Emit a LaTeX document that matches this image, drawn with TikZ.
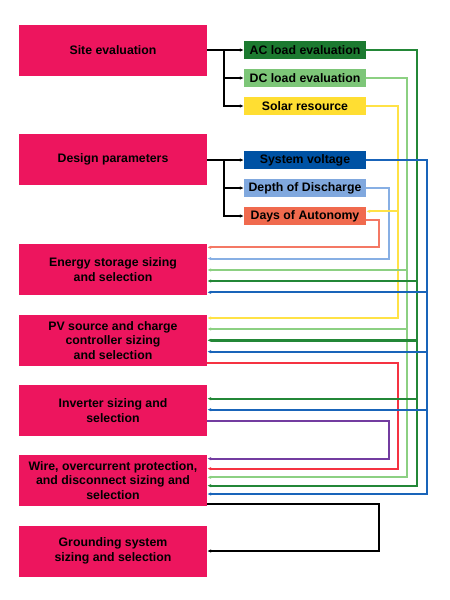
\documentclass[tikz,border=0pt]{standalone}
\usepackage{fontspec}
\setmainfont{Liberation Sans}
\usetikzlibrary{arrows.meta,calc}
\definecolor{pinkbox}{RGB}{237,21,94}
\definecolor{acfill}{RGB}{28,122,48}
\definecolor{dcfill}{RGB}{125,198,120}
\definecolor{solfill}{RGB}{255,222,50}
\definecolor{svfill}{RGB}{0,82,164}
\definecolor{dodfill}{RGB}{128,168,222}
\definecolor{daysfill}{RGB}{240,106,78}
\definecolor{cdg}{RGB}{35,135,55}
\definecolor{clg}{RGB}{140,208,130}
\definecolor{cyl}{RGB}{255,226,70}
\definecolor{cbl}{RGB}{25,100,185}
\definecolor{clb}{RGB}{135,175,228}
\definecolor{cor}{RGB}{244,120,100}
\definecolor{crd}{RGB}{245,50,65}
\definecolor{cpu}{RGB}{115,60,160}
\tikzset{
  mainbox/.style={fill=pinkbox, minimum width=188pt, minimum height=51pt, inner sep=0pt, align=center,
    font=\fontsize{12.3}{14.7}\selectfont\bfseries},
  subbox/.style={minimum width=122pt, minimum height=18.5pt, inner sep=0pt,
    font=\fontsize{12.3}{14.7}\selectfont\bfseries},
  conn/.style={line width=2pt, -{Latex[length=4pt,width=3.5pt]}},
  thick2/.style={line width=2.4pt},
}
\begin{document}
\begin{tikzpicture}[x=1pt,y=-1pt]
\useasboundingbox (0,0) rectangle (450,600);
% main boxes
\node[mainbox] (site) at (113,50) {Site evaluation};
\node[mainbox] (design) at (113,159.5) {Design parameters};
\node[mainbox] (es) at (113,269.8) {Energy storage sizing\\and selection};
\node[mainbox] (pv) at (113,340.3) {PV source and charge\\controller sizing\\and selection};
\node[mainbox] (inv) at (113,410.3) {Inverter sizing and\\selection};
\node[mainbox] (wire) at (113,480.3) {Wire, overcurrent protection,\\and disconnect sizing and\\selection};
\node[mainbox] (gr) at (113,551) {Grounding system\\sizing and selection};
% sub boxes
\node[subbox, fill=acfill] (ac) at (305,50) {AC load evaluation};
\node[subbox, fill=dcfill] (dc) at (305,78) {DC load evaluation};
\node[subbox, fill=solfill] (sol) at (305,106) {Solar resource};
\node[subbox, fill=svfill] (sv) at (305,160) {System voltage};
\node[subbox, fill=dodfill] (dod) at (305,188) {Depth of Discharge};
\node[subbox, fill=daysfill] (days) at (305,216) {Days of Autonomy};
% bus x positions
\coordinate (j1) at (224,50);
\coordinate (j2) at (224,159.5);
\coordinate (xAC) at (416.7,0);
\coordinate (xDC) at (407.3,0);
\coordinate (xSol) at (398.3,0);
\coordinate (xSV) at (426.7,0);
\coordinate (xDoD) at (389,0);
\coordinate (xDays) at (379.3,0);
\coordinate (xRed) at (398.3,0);
\coordinate (xPur) at (388.7,0);
\coordinate (xBlk) at (379.3,0);
% entry / exit points
\coordinate (daysin) at ($(days.east)+(0,-4.7)$);
\coordinate (daysout) at ($(days.east)+(0,4)$);
\coordinate (es1) at ($(es.east)+(0,-22.5)$);
\coordinate (es2) at ($(es.east)+(0,-11.2)$);
\coordinate (es3) at ($(es.east)+(0,0.2)$);
\coordinate (es4) at ($(es.east)+(0,11.2)$);
\coordinate (es5) at ($(es.east)+(0,22.5)$);
\coordinate (pv1) at ($(pv.east)+(0,-22.3)$);
\coordinate (pv2) at ($(pv.east)+(0,-11.3)$);
\coordinate (pv3) at ($(pv.east)+(0,0)$);
\coordinate (pv4) at ($(pv.east)+(0,11.4)$);
\coordinate (pv5) at ($(pv.east)+(0,22.4)$);
\coordinate (in1) at ($(inv.east)+(0,-11.6)$);
\coordinate (in2) at ($(inv.east)+(0,-0.6)$);
\coordinate (in3) at ($(inv.east)+(0,10.7)$);
\coordinate (wi1) at ($(wire.east)+(0,-21.6)$);
\coordinate (wi2) at ($(wire.east)+(0,-11.6)$);
\coordinate (wi3) at ($(wire.east)+(0,-3)$);
\coordinate (wi4) at ($(wire.east)+(0,5.4)$);
\coordinate (wi5) at ($(wire.east)+(0,13.7)$);
\coordinate (wi6) at ($(wire.east)+(0,23.4)$);
% black branches
\draw[conn] (site.east) -- (ac.west);
\draw[conn] (j1) |- (dc.west);
\draw[conn] (j1) |- (sol.west);
\draw[conn] (design.east) -- (j2) |- (sv.west);
\draw[conn] (j2) |- (dod.west);
\draw[conn] (j2) |- (days.west);
% orange (days of autonomy)
\draw[conn, cor] (daysout) -| (xDays |- es1) -- (es1);
% light blue (depth of discharge)
\draw[conn, clb] (dod.east) -| (xDoD |- es2) -- (es2);
% yellow (solar resource)
\draw[conn, cyl] (sol.east) -| (xSol |- pv1) -- (pv1);
\draw[conn, cyl] (xSol |- daysin) -- (daysin);
% red
\draw[conn, crd] (pv5) -| (xRed |- wi2) -- (wi2);
% purple
\draw[conn, cpu] (in3) -| (xPur |- wi1) -- (wi1);
% black to grounding
\draw[conn] (wi6) -| (xBlk |- gr.east) -- (gr.east);
% light green (DC load)
\draw[conn, clg] (dc.east) -| (xDC |- wi3) -- (wi3);
\draw[conn, clg] (xDC |- es3) -- (es3);
\draw[conn, clg] (xDC |- pv2) -- (pv2);
% dark green (AC load)
\draw[conn, cdg, thick2] (ac.east) -| (xAC |- wi4) -- (wi4);
\draw[conn, cdg, thick2] (xAC |- es4) -- (es4);
\draw[conn, cdg, thick2] (xAC |- pv3) -- (pv3);
\draw[conn, cdg, thick2] (xAC |- in1) -- (in1);
% blue (system voltage)
\draw[conn, cbl] (sv.east) -| (xSV |- wi5) -- (wi5);
\draw[conn, cbl] (xSV |- es5) -- (es5);
\draw[conn, cbl] (xSV |- pv4) -- (pv4);
\draw[conn, cbl] (xSV |- in2) -- (in2);
\end{tikzpicture}
\end{document}
